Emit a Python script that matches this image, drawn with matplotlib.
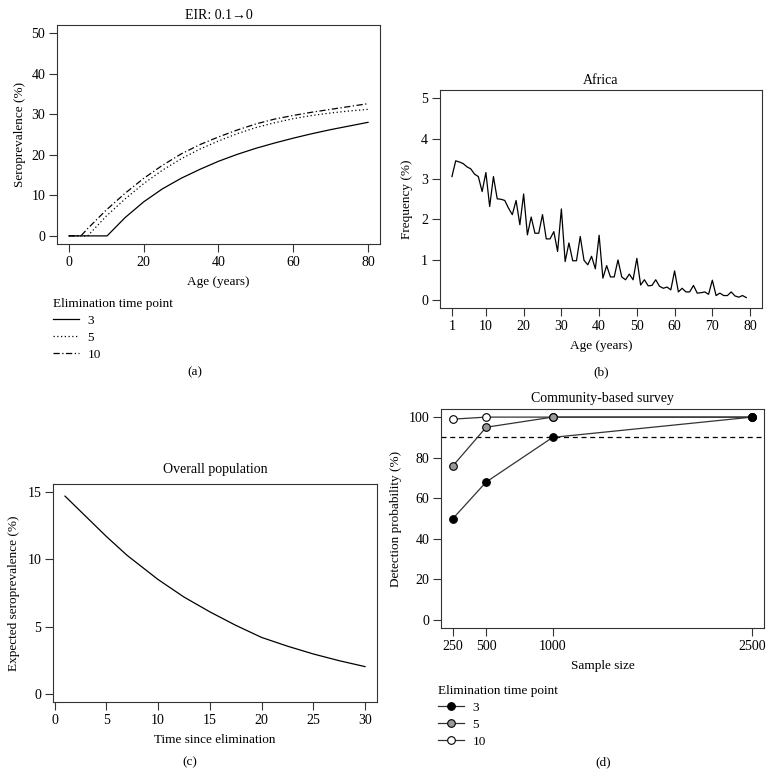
import numpy as np
import matplotlib
matplotlib.use("Agg")
import matplotlib.pyplot as plt
from matplotlib.lines import Line2D

plt.rcParams['font.family'] = ['Liberation Serif', 'DejaVu Serif']
plt.rcParams['font.size'] = 9

# (a) seroprevalence by age, EIR 0.1 -> 0
age_a3 = [0, 10.2, 15, 20, 25, 30, 35, 40, 45, 50, 55, 60, 65, 70, 75, 80]
sero_a3 = [0, 0, 4.5, 8.4, 11.6, 14.2, 16.4, 18.4, 20.1, 21.6, 22.9, 24.1, 25.2, 26.2, 27.1, 28.0]
age_a5 = [0, 5.0, 10, 15, 20, 25, 30, 35, 40, 45, 50, 55, 60, 65, 70, 75, 80]
sero_a5 = [0, 0, 4.9, 9.1, 12.9, 16.2, 19.0, 21.4, 23.4, 25.2, 26.7, 27.9, 28.9, 29.7, 30.3, 30.8, 31.2]
age_a10 = [0, 3.2, 5, 10, 15, 20, 25, 30, 35, 40, 45, 50, 55, 60, 65, 70, 75, 80]
sero_a10 = [0, 0, 1.8, 6.4, 10.5, 14.2, 17.4, 20.2, 22.5, 24.4, 26.1, 27.6, 28.8, 29.7, 30.5, 31.2, 31.9, 32.6]

# (b) Africa age distribution
age_b = list(range(1, 80))
freq_b = [3.06, 3.45, 3.42, 3.38, 3.30, 3.25, 3.12, 3.06, 2.69, 3.16,
          2.32, 3.06, 2.51, 2.50, 2.47, 2.28, 2.12, 2.47, 1.87, 2.63,
          1.62, 2.06, 1.66, 1.66, 2.12, 1.52, 1.52, 1.70, 1.21, 2.26,
          0.96, 1.42, 0.98, 0.98, 1.58, 0.99, 0.88, 1.09, 0.78, 1.61,
          0.55, 0.86, 0.58, 0.58, 1.00, 0.58, 0.51, 0.65, 0.51, 1.04,
          0.38, 0.51, 0.36, 0.37, 0.51, 0.35, 0.30, 0.33, 0.26, 0.73,
          0.21, 0.30, 0.21, 0.21, 0.37, 0.18, 0.19, 0.21, 0.15, 0.50,
          0.12, 0.18, 0.12, 0.12, 0.21, 0.11, 0.08, 0.12, 0.07]

# (c) overall population
time_c = [1, 3, 5, 7, 10, 12.5, 15, 17.5, 20, 22.5, 25, 27.5, 30]
exp_sero_c = [14.7, 13.2, 11.7, 10.3, 8.5, 7.2, 6.1, 5.1, 4.2, 3.55, 2.97, 2.47, 2.03]

# (d) community-based survey
sample_d = [250, 500, 1000, 2500]
det_3 = [50, 68, 90, 100]
det_5 = [76, 95, 100, 100]
det_10 = [99, 100, 100, 100]
elim_labels = ['3', '5', '10']

W, H = 774, 776
fig = plt.figure(figsize=(W / 100, H / 100), dpi=100)


def make_axes(l, t, r, b):
    return fig.add_axes([l / W, 1 - b / H, (r - l) / W, (b - t) / H])


def style(ax):
    for s in ax.spines.values():
        s.set_linewidth(0.8)
        s.set_color('#333333')
    ax.tick_params(direction='out', length=5.5, width=0.8, color='#333333', pad=3, labelsize=10)


ax_a = make_axes(57, 25, 380, 244)
ax_b = make_axes(440, 90, 762, 308.5)
ax_c = make_axes(53, 484, 377, 702)
ax_d = make_axes(441, 409, 764, 628)

# panel a
ax_a.plot(age_a3, sero_a3, color='black', lw=0.9, ls='-')
ax_a.plot(age_a5, sero_a5, color='black', lw=0.9, ls=(0, (1, 2)))
ax_a.plot(age_a10, sero_a10, color='black', lw=0.9, ls=(0, (5, 2, 1, 2)))
ax_a.set_xlim(-3.2, 83.2)
ax_a.set_ylim(-2, 52)
ax_a.set_xticks([0, 20, 40, 60, 80])
ax_a.set_yticks([0, 10, 20, 30, 40, 50])
ax_a.set_title('EIR: 0.1\u21920', fontsize=10, pad=4)
ax_a.set_xlabel('Age (years)', fontsize=9.5, labelpad=5)
ax_a.set_ylabel('Seroprevalence (%)', fontsize=9.5, labelpad=4)
style(ax_a)
h_a = [Line2D([], [], color='black', lw=0.9, ls='-'),
       Line2D([], [], color='black', lw=0.9, ls=(0, (1, 2))),
       Line2D([], [], color='black', lw=0.9, ls=(0, (5, 2, 1, 2)))]
fig.legend(h_a, elim_labels, title='Elimination time point', loc='upper left',
           bbox_to_anchor=(53 / W, 1 - 298 / H), frameon=False, fontsize=9.5,
           title_fontsize=9.5, alignment='left', handlelength=2.0, handletextpad=0.6,
           labelspacing=0.35, borderpad=0, borderaxespad=0)

# panel b
ax_b.plot(age_b, freq_b, color='black', lw=0.9)
ax_b.set_xlim(-2.16, 83.16)
ax_b.set_ylim(-0.2, 5.2)
ax_b.set_xticks([1, 10, 20, 30, 40, 50, 60, 70, 80])
ax_b.set_yticks([0, 1, 2, 3, 4, 5])
ax_b.set_title('Africa', fontsize=10, pad=4)
ax_b.set_xlabel('Age (years)', fontsize=9.5, labelpad=5)
ax_b.set_ylabel('Frequency (%)', fontsize=9.5, labelpad=6)
style(ax_b)

# panel c
ax_c.plot(time_c, exp_sero_c, color='black', lw=0.9)
ax_c.set_xlim(-0.16, 31.16)
ax_c.set_ylim(-0.6, 15.6)
ax_c.set_xticks([0, 5, 10, 15, 20, 25, 30])
ax_c.set_yticks([0, 5, 10, 15])
ax_c.set_title('Overall population', fontsize=10, pad=8)
ax_c.set_xlabel('Time since elimination', fontsize=9.5, labelpad=5)
ax_c.set_ylabel('Expected seroprevalence (%)', fontsize=9.5, labelpad=5)
style(ax_c)

# panel d
ax_d.axhline(90, color='black', lw=0.9, ls=(0, (4, 3)))
mk = dict(marker='o', markersize=5.5, markeredgecolor='black', markeredgewidth=0.8, color='#333333', lw=0.9)
ax_d.plot(sample_d, det_10, markerfacecolor='white', **mk)
ax_d.plot(sample_d, det_5, markerfacecolor='#999999', **mk)
ax_d.plot(sample_d, det_3, markerfacecolor='black', **mk)
ax_d.set_xlim(160, 2590)
ax_d.set_ylim(-4, 104)
ax_d.set_xticks(sample_d)
ax_d.set_yticks([0, 20, 40, 60, 80, 100])
ax_d.set_title('Community-based survey', fontsize=10, pad=5)
ax_d.set_xlabel('Sample size', fontsize=9.5, labelpad=5)
ax_d.set_ylabel('Detection probability (%)', fontsize=9.5, labelpad=5)
style(ax_d)
h_d = [Line2D([], [], markerfacecolor=fc, **mk) for fc in ['black', '#999999', 'white']]
fig.legend(h_d, elim_labels, title='Elimination time point', loc='upper left',
           bbox_to_anchor=(438 / W, 1 - 685 / H), frameon=False, fontsize=9.5,
           title_fontsize=9.5, alignment='left', handlelength=2.0, handletextpad=0.6,
           labelspacing=0.35, borderpad=0, borderaxespad=0)

# panel captions
for x, y, s in [(195, 372, '(a)'), (601, 372, '(b)'), (190, 762, '(c)'), (603, 762, '(d)')]:
    fig.text(x / W, 1 - y / H, s, ha='center', va='center', fontsize=9.5)

fig.savefig('out.png', dpi=100)
